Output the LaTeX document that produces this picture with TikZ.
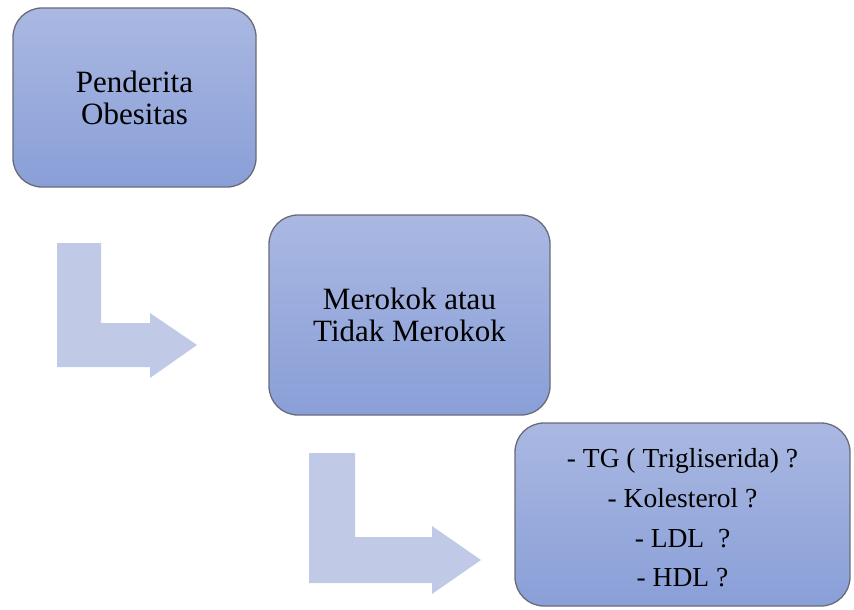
\documentclass[tikz,border=0pt]{standalone}
\usepackage{fontspec}
\setmainfont{Liberation Serif}
\definecolor{boxtop}{RGB}{170,184,226}
\definecolor{boxbot}{RGB}{137,159,215}
\definecolor{boxline}{RGB}{105,108,120}
\definecolor{arrowfill}{RGB}{192,202,230}
\tikzset{
  box/.style={draw=boxline, line width=1.3pt, rounded corners=29pt,
    top color=boxtop, bottom color=boxbot, inner sep=0pt, align=center,
    font=\fontsize{31}{32}\selectfont},
  smalltext/.style={align=center, inner sep=0pt, font=\fontsize{27.5}{39.7}\selectfont},
  bentarrow/.style={fill=arrowfill, draw=none}
}
\begin{document}
\begin{tikzpicture}[x=1pt,y=-1pt]
\useasboundingbox (0,0) rectangle (854,610);
% boxes
\node[box, minimum width=243pt, minimum height=179pt] (b1) at (134.5,97.5) {Penderita\\Obesitas};
\node[box, minimum width=281pt, minimum height=200pt] (b2) at (409.5,315) {Merokok atau\\Tidak Merokok};
\node[box, minimum width=335pt, minimum height=183pt] (b3) at (682.5,514.5) {};
\node[smalltext] (t3) at ([yshift=-3.5pt]b3.center) {- TG ( Trigliserida) ?\\- Kolesterol ?\\- LDL \ ?\\- HDL ?};
% bent arrows
\path[bentarrow] (57,243) -- (101,243) -- (101,323) -- (150,323) -- (150,313)
  -- (197,345) -- (150,378) -- (150,367) -- (57,367) -- cycle;
\path[bentarrow] (309,453) -- (355,453) -- (355,537) -- (432,537) -- (432,526)
  -- (481,560) -- (432,594) -- (432,583) -- (309,583) -- cycle;
\end{tikzpicture}
\end{document}
